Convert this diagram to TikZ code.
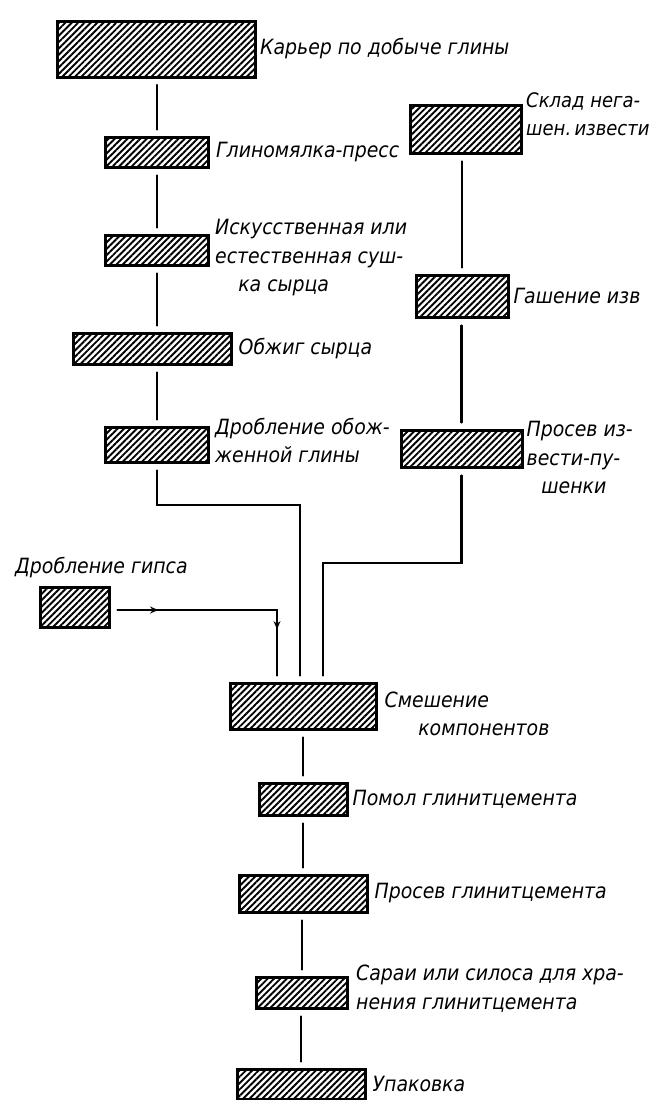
\documentclass[tikz,border=0pt]{standalone}
\usepackage{fontspec}
\newfontfamily\lblfont{DejaVu Sans Condensed}
\usetikzlibrary{positioning,patterns.meta,arrows.meta,decorations.markings}

\begin{document}
\begin{tikzpicture}[x=1pt, y=-1pt,
    stage/.style={draw, line width=3pt, inner sep=0pt,
      pattern={Lines[angle=45, distance=4.5pt, line width=1.9pt]}},
    caption/.style={inner sep=0pt, align=left,
      font=\lblfont\itshape\fontsize{21}{28.5}\selectfont},
    flow/.style={line width=2.2pt, line cap=round, shorten <=7pt, shorten >=6pt},
    flowtips/.style={postaction={decorate, decoration={markings,
      mark=at position 0.2 with {\arrow{Stealth[length=8pt, width=7pt]}},
      mark=at position 0.78 with {\arrow{Stealth[length=8pt, width=7pt]}}}}}]
  % A hatched stage box: #1 = name, #2,#3 = center, #4 = width, #5 = height.
  \newcommand{\stagebox}[5]{%
    \node[stage, minimum width=#4pt, minimum height=#5pt] (#1) at (#2,#3) {};}

  \useasboundingbox (0,0) rectangle (657,1100);

  % clay line (left column)
  \stagebox{quarry}{156}{49}{198}{56}
  \stagebox{press}{157}{152}{103}{30}
  \stagebox{dryer}{157}{250}{103}{30}
  \stagebox{kiln}{152}{348.5}{158}{31}
  \stagebox{crushclay}{157}{444.5}{103}{35}
  \node[caption, right=4pt of quarry] (quarrytxt) {Карьер по добыче глины};
  \node[caption, right=6pt of press] (presstxt) {Глиномялка-пресс};
  \node[caption, right=5pt of dryer, yshift=-8pt] (dryertxt)
    {Искусственная или\\естественная суш-\\\hspace{1.1em}ка сырца};
  \node[caption, right=6pt of kiln] (kilntxt) {Обжиг сырца};
  \node[caption, right=5pt of crushclay, yshift=4pt] (crushclaytxt)
    {Дробление обож-\\женной глины};

  % lime line (right column)
  \stagebox{limestore}{466}{129}{111}{48}
  \stagebox{slaking}{462}{296}{92}{42}
  \stagebox{limesieve}{461.5}{448.5}{121}{37}
  \node[caption, right=3pt of limestore, yshift=15pt,
    font=\lblfont\itshape\fontsize{20}{28.5}\selectfont] (limestoretxt)
    {Склад нега-\\шен.\,извести};
  \node[caption, right=4pt of slaking] (slakingtxt) {Гашение изв};
  \node[caption, right=3pt of limesieve, yshift=-9pt] (limesievetxt)
    {Просев из-\\вести-пу-\\\hspace{0.7em}шенки};

  % gypsum
  \stagebox{gypsum}{74.5}{607}{69}{40}
  \node[caption, anchor=west] (gypsumtxt) at (15,568) {Дробление гипса};

  % mixing and the cement line
  \stagebox{mixing}{303}{706}{146}{46}
  \stagebox{grinding}{303}{799}{88}{32}
  \stagebox{cemsieve}{303}{893.5}{128}{37}
  \stagebox{storage}{302}{992.5}{91}{31}
  \stagebox{packing}{301}{1084}{128}{30}
  \node[caption, right=7pt of mixing, yshift=-8pt] (mixingtxt)
    {Смешение\\\hspace{1.6em}компонентов};
  \node[caption, right=4pt of grinding] (grindingtxt) {Помол глинитцемента};
  \node[caption, right=6pt of cemsieve] (cemsievetxt) {Просев глинитцемента};
  \node[caption, right=7pt of storage, yshift=4pt] (storagetxt)
    {Сараи или силоса для хра-\\нения глинитцемента};
  \node[caption, right=6pt of packing] (packingtxt) {Упаковка};

  % connectors
  \draw[flow] (quarry.south -| press.north) -- (press.north);
  \draw[flow] (press) -- (dryer);
  \draw[flow] (dryer.south) -- (dryer.south |- kiln.north);
  \draw[flow] (kiln.south -| crushclay.north) -- (crushclay.north);
  \draw[flow] (limestore.south -| slaking.north) -- (slaking.north);
  \draw[flow] (slaking.south -| limesieve.north) -- (limesieve.north);
  \coordinate (clayturn) at (300,505);
  \coordinate (limeturn) at (323,563);
  \coordinate (gypsumturn) at (277,610);
  \draw[flow] (crushclay.south) |- (clayturn) -- (clayturn |- mixing.north);
  \draw[flow] (limesieve.south) |- (limeturn) -- (limeturn |- mixing.north);
  \draw[flow, flowtips] (gypsum.east |- gypsumturn) -- (gypsumturn) -- (gypsumturn |- mixing.north);
  \draw[flow] (mixing.south -| grinding.north) -- (grinding.north);
  \draw[flow] (grinding) -- (cemsieve);
  \draw[flow] (cemsieve.south -| storage.north) -- (storage.north);
  \draw[flow] (storage.south -| packing.north) -- (packing.north);
\end{tikzpicture}
\end{document}
